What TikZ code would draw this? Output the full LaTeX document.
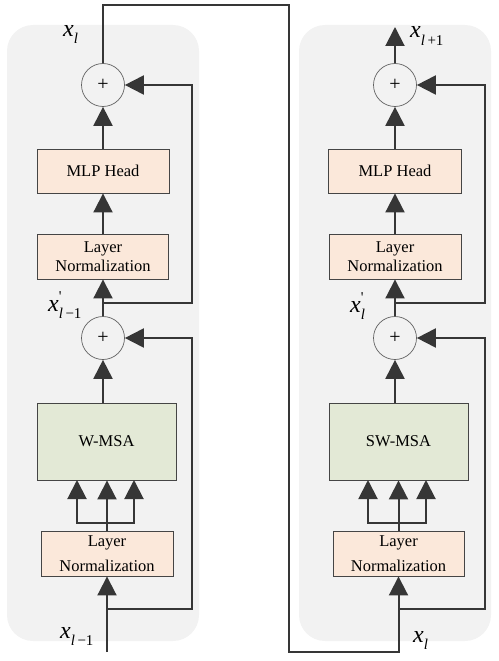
\documentclass[tikz,border=0pt]{standalone}
\usepackage{fontspec}
\setmainfont{Liberation Serif}
\usetikzlibrary{arrows.meta}
\definecolor{panelgray}{HTML}{F2F2F2}
\definecolor{peach}{HTML}{FBE8DA}
\definecolor{sage}{HTML}{E3E9D6}
\definecolor{ink}{HTML}{363636}
\definecolor{boxline}{HTML}{454545}
\newcommand{\xsub}[1]{\textit{x}\raisebox{-7pt}{\fontsize{15}{15}\selectfont #1}}
\newcommand{\xsubp}[1]{\textit{x}\makebox[0pt][l]{\raisebox{10pt}{\fontsize{15}{15}\selectfont\textquotesingle}}\raisebox{-7pt}{\fontsize{15}{15}\selectfont #1}}
\tikzset{
  panel/.style={fill=panelgray, draw=none, rounded corners=26pt},
  box/.style={draw=boxline, line width=0.9pt, inner sep=0pt, align=center,
    font=\fontsize{16.5}{19}\selectfont},
  lnbox/.style={box, fill=peach},
  lnlow/.style={box, fill=peach, font=\fontsize{16.5}{25}\selectfont},
  msabox/.style={box, fill=sage},
  addc/.style={circle, draw=boxline!85, line width=0.7pt, minimum size=43pt,
    inner sep=0pt, font=\fontsize{20}{20}\selectfont},
  wire/.style={draw=ink, line width=2pt},
  arr/.style={wire, -{Triangle[length=19pt,width=19pt]}},
  lab/.style={anchor=base west, inner sep=0pt, font=\fontsize{24}{24}\selectfont},
}
\begin{document}
\begin{tikzpicture}[x=1pt,y=-1pt]
\useasboundingbox (0,0) rectangle (498,661);
% panels
\fill[panel] (7,25) rectangle (199,641);
\fill[panel] (299,25) rectangle (491,641);

% ---------- left block ----------
\node[addc] (c1) at (103,85) {+};
\node[lnbox, minimum width=132pt, minimum height=44pt] (mlp1) at (103,171) {MLP Head};
\node[lnbox, minimum width=131pt, minimum height=45pt] (ln1) at (103,256.5) {Layer\\Normalization};
\node[addc] (c2) at (103,338) {+};
\node[msabox, minimum width=139pt, minimum height=77pt] (wmsa) at (106.5,441.5) {W-MSA};
\node[lnlow, minimum width=132pt, minimum height=45pt] (ln2) at (107,553.5) {Layer\\Normalization};

\coordinate (inL) at (107,652);
\coordinate (sL1) at (107,609);
\coordinate (kL1) at (192,338);
\coordinate (jL) at (107,523);
\coordinate (wa) at (77,480);
\coordinate (wc) at (134,480);
\coordinate (sL2) at (103,303);
\coordinate (kL2) at (192,85);

\draw[arr] (inL) -- (ln2.south);
\draw[arr] (sL1) -| (kL1) -- (c2.east);
\draw[wire] (ln2.north) -- (jL);
\draw[arr] (jL) -- (jL |- wmsa.south);
\draw[arr] (jL) -| (wa);
\draw[arr] (jL) -| (wc);
\draw[arr] (c2 |- wmsa.north) -- (c2.south);
\draw[arr] (c2.north) -- (ln1.south);
\draw[arr] (sL2) -| (kL2) -- (c1.east);
\draw[arr] (ln1.north) -- (mlp1.south);
\draw[arr] (mlp1.north) -- (c1.south);

% link between blocks
\coordinate (t1) at (103,5);
\coordinate (t2) at (289,5);
\coordinate (t3) at (289,652);
\coordinate (t4) at (398,652);

% ---------- right block ----------
\node[addc] (c3) at (395,85) {+};
\node[lnbox, minimum width=133pt, minimum height=44pt] (mlp2) at (395,171) {MLP Head};
\node[lnbox, minimum width=132pt, minimum height=45pt] (ln3) at (395,256.5) {Layer\\Normalization};
\node[addc] (c4) at (395,338) {+};
\node[msabox, minimum width=139pt, minimum height=77pt] (swmsa) at (398.5,441.5) {SW-MSA};
\node[lnlow, minimum width=131pt, minimum height=45pt] (ln4) at (398.5,553.5) {Layer\\Normalization};

\coordinate (sR1) at (398.5,609);
\coordinate (kR1) at (485,338);
\coordinate (jR) at (398.5,523);
\coordinate (sa) at (368,480);
\coordinate (sc) at (426,480);
\coordinate (sR2) at (395,303);
\coordinate (kR2) at (485,85);
\coordinate (out) at (395,27);

\draw[arr] (c1.north) -- (t1) -- (t2) -- (t3) -- (t4 -| ln4.south) -- (ln4.south);
\draw[arr] (sR1) -| (kR1) -- (c4.east);
\draw[wire] (ln4.north) -- (jR);
\draw[arr] (jR) -- (jR |- swmsa.south);
\draw[arr] (jR) -| (sa);
\draw[arr] (jR) -| (sc);
\draw[arr] (c4 |- swmsa.north) -- (c4.south);
\draw[arr] (c4.north) -- (ln3.south);
\draw[arr] (sR2) -| (kR2) -- (c3.east);
\draw[arr] (ln3.north) -- (mlp2.south);
\draw[arr] (mlp2.north) -- (c3.south);
\draw[arr] (c3.north) -- (out);

% labels
\node[lab] (lxl) at (63,37) {\xsub{\textit{l}}};
\node[lab] (lxlm1p) at (48,311) {\xsubp{\textit{l}\,−1}};
\node[lab] (lxlm1) at (60,638) {\xsub{\textit{l}\,−1}};
\node[lab] (lxlp1) at (410,38) {\xsub{\textit{l}\,+1}};
\node[lab] (lxlp) at (350,312) {\xsubp{\textit{l}}};
\node[lab] (lxlb) at (413,642) {\xsub{\textit{l}}};
\end{tikzpicture}
\end{document}
